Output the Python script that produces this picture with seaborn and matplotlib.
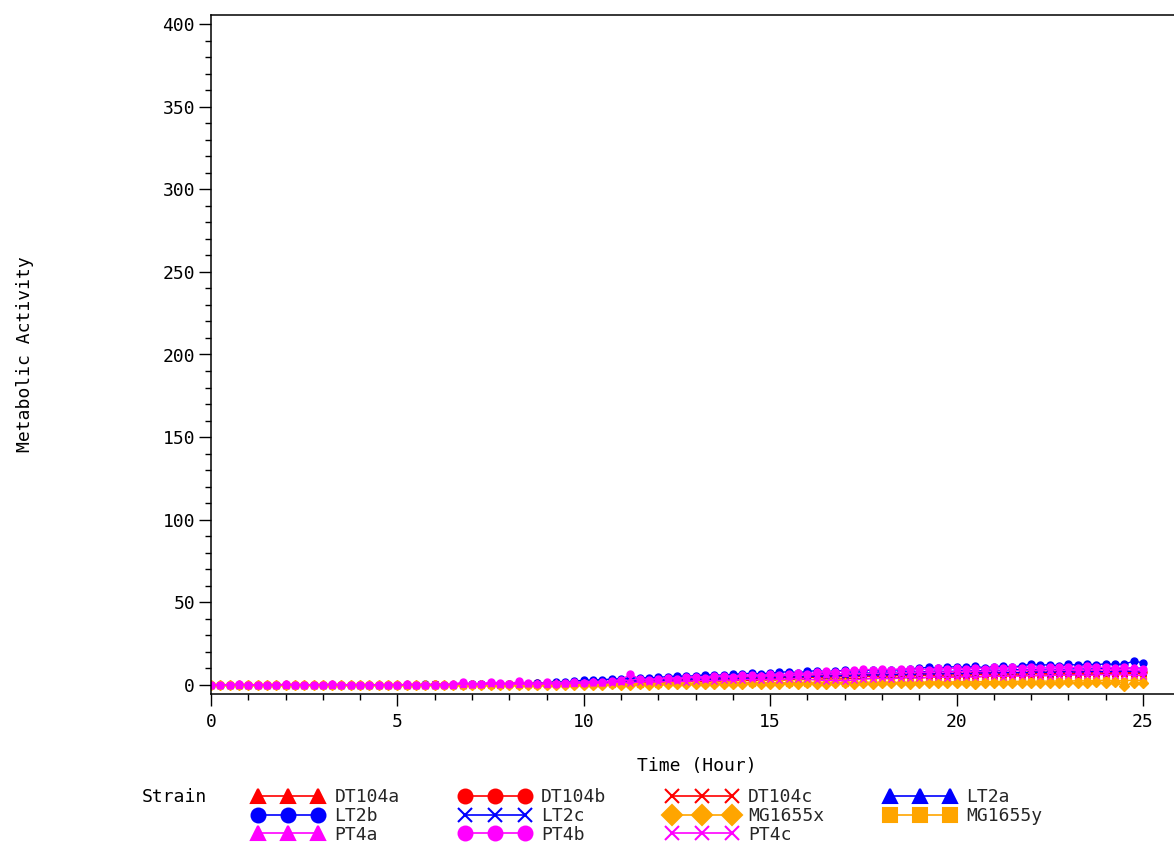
import matplotlib
matplotlib.use("Agg")
import matplotlib.pyplot as plt
from matplotlib.lines import Line2D
from matplotlib.ticker import MultipleLocator
import numpy as np
import pandas as pd
import seaborn as sns

# readings every 15 minutes from 0 to 25 hours
time_hours = np.arange(0, 25.01, 0.25)

strains = ["DT104a", "DT104b", "DT104c", "LT2a", "LT2b", "LT2c",
           "MG1655x", "MG1655y", "PT4a", "PT4b", "PT4c"]

dt104a = [0.0, 0.1, 0.0, 0.2, 0.1, 0.0, 0.1, 0.0, 0.2, 0.1, 0.0, 0.1, 0.2, 0.0, 0.1, 0.2, 0.0, 0.1, 0.0, 0.2,
          0.1, 0.0, 0.2, 0.1, 0.2, 0.0, 0.3, 0.2, 0.4, 0.3, 0.5, 0.4, 0.6, 0.5, 0.7, 0.8, 0.7, 0.9, 1.0, 1.1,
          1.3, 1.5, 1.4, 1.7, 1.9, 2.0, 2.2, 2.1, 2.4, 2.6, 2.8, 2.7, 3.0, 3.2, 3.1, 3.4, 3.6, 3.5, 3.8, 4.0,
          3.9, 4.2, 4.4, 4.3, 4.5, 4.7, 4.6, 4.9, 5.0, 4.9, 5.2, 5.3, 5.2, 5.5, 5.6, 5.5, 5.8, 5.9, 5.8, 6.0,
          6.1, 6.0, 6.3, 6.4, 6.2, 6.5, 6.6, 6.5, 6.8, 6.9, 6.7, 7.0, 7.1, 6.9, 7.2, 7.3, 7.1, 7.4, 7.5, 7.3, 7.0]
dt104b = [0.1, 0.0, 0.2, 0.0, 0.1, 0.2, 0.0, 0.1, 0.0, 0.2, 0.1, 0.0, 0.1, 0.2, 0.0, 0.1, 0.0, 0.2, 0.1, 0.0,
          0.2, 0.1, 0.0, 0.2, 0.3, 0.1, 0.2, 0.4, 0.3, 0.5, 0.4, 0.6, 0.7, 0.6, 0.8, 0.9, 1.0, 1.2, 1.1, 1.4,
          1.6, 1.8, 1.7, 2.0, 2.3, 2.2, 2.6, 2.8, 2.7, 3.0, 3.3, 3.2, 3.5, 3.7, 3.6, 4.0, 4.2, 4.1, 4.4, 4.6,
          4.5, 4.8, 5.0, 4.9, 5.2, 5.4, 5.3, 5.6, 5.8, 5.7, 6.0, 6.1, 6.0, 6.3, 6.4, 6.3, 6.6, 6.7, 6.6, 6.9,
          7.0, 6.9, 7.2, 7.3, 7.1, 7.4, 7.5, 7.4, 7.7, 7.8, 7.6, 7.9, 8.0, 7.8, 8.1, 8.2, 8.0, 8.3, 8.4, 8.2, 7.9]
dt104c = [0.0, 0.1, 0.0, 0.1, 0.2, 0.0, 0.1, 0.0, 0.1, 0.2, 0.0, 0.1, 0.0, 0.2, 0.1, 0.0, 0.1, 0.2, 0.0, 0.1,
          0.0, 0.1, 0.2, 0.0, 0.1, 0.2, 0.1, 0.3, 0.2, 0.1, 0.3, 0.2, 0.4, 0.3, 0.5, 0.4, 0.6, 0.5, 0.7, 0.8,
          0.9, 1.0, 1.2, 1.1, 1.3, 1.5, 1.4, 1.6, 1.8, 1.7, 1.9, 2.1, 2.0, 2.2, 2.4, 2.3, 2.5, 2.7, 2.6, 2.8,
          3.0, 2.9, 3.1, 3.3, 3.2, 3.4, 3.6, 3.5, 3.7, 3.9, 3.8, 4.0, 4.2, 4.1, 4.3, 4.5, 4.4, 4.6, 4.8, 4.7,
          4.9, 5.1, 5.0, 5.2, 5.4, 5.3, 5.5, 5.7, 5.6, 5.8, 6.0, 5.9, 6.1, 6.3, 6.2, 6.4, 6.6, 6.5, 6.7, 6.9, 6.6]
lt2a = [0.1, 0.0, 0.1, 0.2, 0.0, 0.1, 0.0, 0.2, 0.1, 0.0, 0.1, 0.2, 0.0, 0.1, 0.0, 0.2, 0.1, 0.0, 0.1, 0.2,
        0.0, 0.1, 0.2, 0.0, 0.1, 0.3, 0.2, 0.1, 0.4, 0.3, 0.5, 0.4, 0.6, 0.5, 0.7, 0.6, 0.9, 1.1, 1.0, 1.4,
        1.6, 1.9, 2.2, 2.0, 2.5, 2.8, 2.6, 3.1, 3.4, 3.2, 3.7, 4.0, 3.8, 4.3, 4.6, 4.4, 4.9, 5.2, 5.0, 5.5,
        5.8, 5.6, 6.1, 6.4, 6.2, 6.6, 6.9, 6.6, 7.0, 7.3, 7.0, 7.4, 7.6, 7.3, 7.8, 8.0, 7.7, 8.2, 8.4, 8.0,
        8.4, 8.7, 8.4, 8.8, 9.0, 8.7, 9.1, 9.3, 9.0, 9.4, 9.6, 9.2, 9.6, 9.8, 9.5, 9.9, 10.1, 9.7, 10.0, 10.4, 10.0]
lt2b = [0.0, 0.1, 0.0, 0.2, 0.0, 0.1, 0.0, 0.1, 0.2, 0.0, 0.1, 0.0, 0.2, 0.1, 0.0, 0.1, 0.2, 0.0, 0.1, 0.0,
        0.2, 0.1, 0.0, 0.3, 0.1, 0.2, 0.0, 0.3, 0.5, 0.4, 0.6, 0.3, 0.8, 0.5, 0.7, 0.9, 1.2, 2.0, 1.6, 2.4,
        2.8, 3.0, 3.2, 3.5, 3.8, 4.0, 4.4, 4.2, 4.6, 5.0, 5.4, 5.2, 5.6, 6.0, 6.2, 5.8, 6.4, 6.8, 7.0, 6.6,
        7.2, 7.6, 8.0, 7.4, 8.2, 8.6, 8.0, 8.4, 8.8, 8.2, 8.6, 9.0, 8.4, 8.8, 9.2, 9.6, 10.2, 10.6, 10.0, 10.8,
        11.0, 10.6, 11.2, 10.4, 11.0, 11.4, 10.8, 11.6, 12.6, 12.0, 12.2, 11.6, 12.4, 12.0, 12.6, 12.2, 12.8, 12.4, 12.6, 14.4, 13.4]
lt2c = [0.0, 0.1, 0.2, 0.0, 0.1, 0.0, 0.2, 0.1, 0.0, 0.1, 0.2, 0.0, 0.1, 0.0, 0.2, 0.1, 0.0, 0.2, 0.1, 0.0,
        0.0, 0.2, 0.1, 0.0, 0.3, 0.1, 0.2, 0.4, 0.2, 0.3, 0.5, 0.3, 0.4, 0.6, 0.5, 0.7, 0.6, 0.8, 1.0, 0.9,
        1.2, 1.4, 1.3, 1.7, 1.9, 1.8, 2.2, 2.4, 2.3, 2.7, 2.9, 2.8, 3.2, 3.4, 3.3, 3.7, 3.9, 3.8, 4.2, 4.4,
        4.3, 4.7, 4.9, 4.8, 5.1, 5.3, 5.2, 5.5, 5.7, 5.6, 5.9, 6.1, 5.9, 6.2, 6.4, 6.2, 6.5, 6.7, 6.5, 6.8,
        7.0, 6.8, 7.1, 7.3, 7.1, 7.4, 7.6, 7.3, 7.6, 7.8, 7.5, 7.8, 8.0, 7.7, 8.0, 8.2, 7.9, 8.2, 8.4, 8.1, 7.8]
mg1655x = [0.0, -0.2, 0.1, 0.0, -0.1, 0.2, 0.0, -0.2, 0.1, 0.0, -0.1, 0.0, 0.1, -0.2, 0.0, 0.1, -0.1, 0.0, 0.2, 0.0,
           -0.1, 0.0, 0.1, -0.2, 0.0, 0.1, 0.0, -0.1, 0.2, 0.0, 0.1, -0.1, 0.0, 0.2, 0.1, 0.0, 0.2, -0.1, 0.1, 0.0,
           0.1, 0.2, 0.0, 0.3, 0.1, 0.2, 0.4, 0.2, 0.5, 0.3, 0.4, 0.6, 0.5, 0.3, 0.6, 0.8, 0.5, 0.7, 0.9, 0.6,
           0.8, 0.6, 0.9, 0.7, 1.0, 0.8, 0.6, 0.9, 1.1, 0.8, 1.0, 0.7, 1.1, 0.9, 1.2, 0.8, 1.0, 1.2, 0.9, 1.1,
           1.0, 1.2, 0.8, 1.1, 1.3, 1.0, 1.2, 0.9, 1.3, 1.1, 1.4, 1.2, 1.5, 1.0, 1.4, 1.6, 1.3, 1.5, -0.5, 1.4, 1.2]
mg1655y = [0.0, 0.1, 0.0, 0.1, 0.0, 0.0, 0.1, 0.0, 0.1, 0.0, 0.0, 0.1, 0.0, 0.1, 0.0, 0.1, 0.0, 0.0, 0.1, 0.0,
           0.1, 0.0, 0.1, 0.0, 0.1, 0.0, 0.2, 0.1, 0.2, 0.1, 0.2, 0.1, 0.3, 0.2, 0.3, 0.2, 0.4, 0.3, 0.4, 0.5,
           0.4, 0.6, 0.5, 0.7, 0.6, 0.8, 0.7, 0.9, 0.8, 1.0, 0.9, 1.1, 1.0, 1.2, 1.1, 1.3, 1.2, 1.4, 1.3, 1.5,
           1.4, 1.5, 1.3, 1.6, 1.4, 1.7, 1.5, 1.6, 1.4, 1.7, 1.5, 1.8, 1.6, 1.7, 1.5, 1.8, 1.6, 1.9, 1.7, 1.8,
           1.9, 2.0, 1.8, 2.1, 1.9, 2.2, 2.0, 2.3, 2.1, 2.4, 2.2, 2.5, 2.3, 2.6, 2.4, 2.7, 2.8, 2.6, 2.5, 2.9, 2.7]
pt4a = [0.0, 0.2, 0.1, 0.0, 0.2, 0.1, 0.0, 0.2, 0.1, 0.0, 0.2, 0.1, 0.0, 0.1, 0.2, 0.0, 0.1, 0.2, 0.0, 0.1,
        0.2, 0.0, 0.1, 0.2, 0.0, 0.3, 0.1, 0.8, 0.5, 0.3, 1.0, 0.6, 1.2, 0.8, 1.4, 0.9, 0.7, 1.6, 1.0, 1.4,
        1.8, 2.2, 1.6, 2.6, 2.2, 3.0, 3.4, 2.8, 3.6, 4.0, 3.4, 4.2, 4.6, 4.0, 4.8, 5.2, 4.6, 5.4, 5.0, 5.8,
        5.4, 6.0, 5.6, 6.2, 6.6, 6.0, 6.8, 6.4, 7.0, 6.6, 7.2, 6.8, 7.4, 7.0, 7.6, 7.2, 7.8, 7.4, 8.0, 7.6,
        8.2, 7.8, 8.4, 8.0, 8.6, 8.2, 8.8, 8.4, 9.0, 8.6, 9.2, 8.8, 9.0, 8.6, 9.2, 8.8, 9.4, 9.0, 9.2, 8.8, 8.4]
pt4b = [0.2, 0.0, 0.1, 0.3, 0.0, 0.2, 0.1, 0.0, 0.3, 0.1, 0.0, 0.2, 0.1, 0.3, 0.0, 0.2, 0.1, 0.0, 0.2, 0.1,
        0.0, 0.3, 0.1, 0.2, 0.0, 0.1, 0.3, 1.8, 0.4, 0.6, 1.8, 1.2, 0.5, 2.2, 1.0, 0.6, 1.5, 0.8, 1.4, 1.9,
        1.2, 2.0, 1.6, 2.4, 3.0, 6.5, 3.6, 3.2, 3.8, 4.2, 3.6, 4.6, 5.0, 4.4, 5.2, 5.6, 5.0, 5.8, 6.2, 5.6,
        6.4, 6.0, 6.8, 7.2, 6.6, 7.6, 8.2, 7.8, 8.6, 9.0, 9.4, 9.2, 9.6, 9.2, 9.8, 9.4, 9.6, 9.2, 10.0, 9.8,
        10.2, 9.6, 10.4, 9.8, 10.6, 10.2, 10.8, 10.4, 10.6, 10.0, 11.0, 10.6, 10.8, 10.4, 11.2, 10.6, 10.8, 10.2, 10.6, 10.0, 9.6]
pt4c = [0.1, 0.0, 0.2, 0.1, 0.0, 0.1, 0.2, 0.0, 0.1, 0.2, 0.0, 0.1, 0.2, 0.0, 0.1, 0.0, 0.2, 0.1, 0.0, 0.2,
        0.1, 0.0, 0.2, 0.1, 0.3, 0.0, 0.2, 0.4, 0.1, 0.3, 0.5, 0.2, 0.6, 0.4, 0.3, 0.7, 0.5, 0.8, 0.6, 0.9,
        1.0, 1.2, 0.9, 1.4, 1.6, 1.3, 1.8, 2.0, 1.7, 2.2, 2.4, 2.0, 2.6, 2.8, 2.4, 3.0, 2.7, 3.2, 3.4, 3.0,
        3.4, 3.2, 3.6, 3.8, 3.4, 3.0, 2.6, 2.8, 2.4, 3.0, 3.6, 3.8, 4.0, 3.6, 4.2, 4.4, 4.0, 4.6, 4.8, 4.4,
        4.8, 5.0, 4.6, 5.2, 5.4, 5.0, 5.6, 5.2, 5.8, 5.4, 5.6, 6.0, 5.8, 6.2, 5.8, 6.0, 6.4, 6.0, 6.2, 5.8, 5.6]

series = [dt104a, dt104b, dt104c, lt2a, lt2b, lt2c, mg1655x, mg1655y, pt4a, pt4b, pt4c]

colors = {"DT104a": "#ff0000", "DT104b": "#ff0000", "DT104c": "#ff0000",
          "LT2a": "#0000ff", "LT2b": "#0000ff", "LT2c": "#0000ff",
          "MG1655x": "#ffa500", "MG1655y": "#ffa500",
          "PT4a": "#ff00ff", "PT4b": "#ff00ff", "PT4c": "#ff00ff"}
markers = {"DT104a": "^", "DT104b": "o", "DT104c": "x",
           "LT2a": "^", "LT2b": "o", "LT2c": "x",
           "MG1655x": "D", "MG1655y": "s",
           "PT4a": "^", "PT4b": "o", "PT4c": "x"}


def main():
    df = pd.DataFrame({
        "Time": np.tile(time_hours, len(strains)),
        "Activity": np.concatenate([np.array(s, dtype=float) for s in series]),
        "Strain": np.repeat(strains, len(time_hours)),
    })

    sns.set_style("ticks")
    plt.rcParams["font.family"] = ["DejaVu Sans Mono", "DejaVu Sans"]

    fig = plt.figure(figsize=(11.74, 8.46), dpi=100)
    ax = fig.add_axes([211 / 1174, 152 / 846, 989 / 1174, 679 / 846])

    # one call per strain: seaborn won't mix filled and line-art markers
    for strain in strains:
        c = colors[strain]
        sns.lineplot(
            data=df[df["Strain"] == strain], x="Time", y="Activity",
            color=c, marker=markers[strain], markersize=5,
            markerfacecolor=c, markeredgecolor=c, markeredgewidth=1.0,
            linewidth=1, ax=ax,
        )

    ax.set_xlim(0, 26.53)
    ax.set_ylim(-5.5, 405.5)
    ax.xaxis.set_major_locator(MultipleLocator(5))
    ax.xaxis.set_minor_locator(MultipleLocator(1))
    ax.yaxis.set_major_locator(MultipleLocator(50))
    ax.yaxis.set_minor_locator(MultipleLocator(10))
    ax.tick_params(which="major", length=8.5, width=1, color="black",
                   labelsize=13, labelcolor="black")
    ax.tick_params(axis="x", which="major", pad=5)
    ax.tick_params(axis="y", which="major", pad=3)
    ax.tick_params(which="minor", length=4.3, width=1, color="black")

    for side in ["left", "bottom", "top"]:
        ax.spines[side].set_visible(True)
        ax.spines[side].set_color("black")
        ax.spines[side].set_linewidth(1.1)
    ax.spines["right"].set_visible(False)

    ax.set_xlabel("Time (Hour)", fontsize=13, color="black")
    ax.xaxis.set_label_coords(0.491, -0.093)
    ax.set_ylabel("Metabolic Activity", fontsize=13, color="black")
    ax.yaxis.label.set_va("center")
    ax.yaxis.set_label_coords(-0.188, 0.5)

    # legend: SAS fills row-wise, matplotlib column-wise
    order = ["DT104a", "LT2b", "PT4a", "DT104b", "LT2c", "PT4b",
             "DT104c", "MG1655x", "PT4c", "LT2a", "MG1655y"]
    handles = [Line2D([], [], color=colors[s], marker=markers[s], markersize=10,
                      markerfacecolor=colors[s], markeredgecolor=colors[s],
                      markeredgewidth=1.5, linewidth=1.2) for s in order]
    fig.legend(handles, order, ncol=4, loc="upper left",
               bbox_to_anchor=(253 / 1174, 1 - 788 / 846),
               frameon=False, numpoints=3, fontsize=13,
               handlelength=3.9, handletextpad=0.6, columnspacing=3.35,
               labelspacing=0.05, borderpad=0, borderaxespad=0)
    fig.text(142 / 1174, 1 - 797 / 846, "Strain", fontsize=13,
             ha="left", va="center", color="black")

    fig.savefig("out.png", dpi=100)


if __name__ == "__main__":
    main()
